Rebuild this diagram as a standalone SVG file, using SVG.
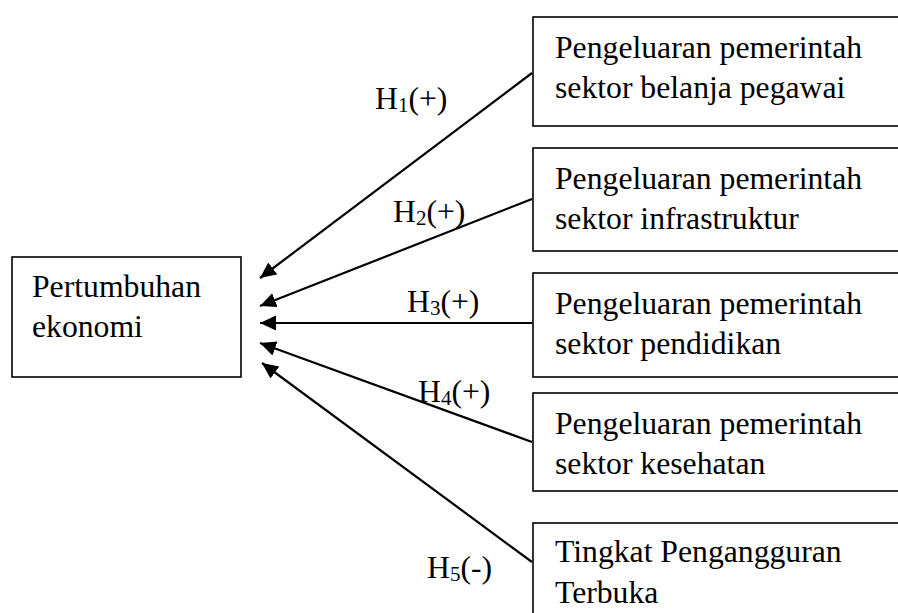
<svg xmlns="http://www.w3.org/2000/svg" width="898" height="613" viewBox="0 0 898 613">
<style>
.box{fill:#fff;stroke:#000;stroke-width:1.6}
.t{font-family:"Liberation Serif","Times New Roman",serif;font-size:31.7px;fill:#000}
.lbl{font-family:"Liberation Serif","Times New Roman",serif;font-size:31.7px;fill:#000}
.sub{font-size:21px}
.c{stroke:#000;stroke-width:2.2;fill:none;marker-end:url(#ah)}
</style>
<defs>
<marker id="ah" markerUnits="userSpaceOnUse" markerWidth="18" markerHeight="16" refX="16" refY="7.5" orient="auto">
<path d="M0,0 L16,7.5 L0,15 z" fill="#000"/>
</marker>
</defs>
<rect width="898" height="613" fill="#fff"/>
<g id="connectors">
<line class="c" x1="532" y1="73" x2="260" y2="278"/>
<line class="c" x1="532" y1="199" x2="260" y2="306"/>
<line class="c" x1="532" y1="323" x2="260" y2="323"/>
<line class="c" x1="532" y1="442" x2="260" y2="343"/>
<line class="c" x1="532" y1="562" x2="262" y2="363"/>
</g>
<g id="labels">
<text class="lbl" x="375" y="109">H<tspan class="sub" dy="3">1</tspan><tspan dy="-3">(+)</tspan></text>
<text class="lbl" x="393" y="222">H<tspan class="sub" dy="3">2</tspan><tspan dy="-3">(+)</tspan></text>
<text class="lbl" x="407" y="312">H<tspan class="sub" dy="3">3</tspan><tspan dy="-3">(+)</tspan></text>
<text class="lbl" x="418" y="402">H<tspan class="sub" dy="3">4</tspan><tspan dy="-3">(+)</tspan></text>
<text class="lbl" x="427" y="578">H<tspan class="sub" dy="3">5</tspan><tspan dy="-3">(-)</tspan></text>
</g>
<g id="node-pertumbuhan">
<rect class="box" x="12" y="257" width="229" height="120"/>
<text class="t" x="32" y="297">Pertumbuhan</text>
<text class="t" x="32" y="337">ekonomi</text>
</g>
<g id="node-pegawai">
<rect class="box" x="533" y="17" width="400" height="109"/>
<text class="t" x="555" y="58">Pengeluaran pemerintah</text>
<text class="t" x="555" y="98">sektor belanja pegawai</text>
</g>
<g id="node-infrastruktur">
<rect class="box" x="533" y="148" width="400" height="103"/>
<text class="t" x="555" y="189">Pengeluaran pemerintah</text>
<text class="t" x="555" y="229">sektor infrastruktur</text>
</g>
<g id="node-pendidikan">
<rect class="box" x="533" y="273" width="400" height="104"/>
<text class="t" x="555" y="314">Pengeluaran pemerintah</text>
<text class="t" x="555" y="354">sektor pendidikan</text>
</g>
<g id="node-kesehatan">
<rect class="box" x="533" y="393" width="400" height="98"/>
<text class="t" x="555" y="434">Pengeluaran pemerintah</text>
<text class="t" x="555" y="474">sektor kesehatan</text>
</g>
<g id="node-tpt">
<rect class="box" x="533" y="523" width="400" height="120"/>
<text class="t" x="555" y="562">Tingkat Pengangguran</text>
<text class="t" x="555" y="603">Terbuka</text>
</g>
</svg>
